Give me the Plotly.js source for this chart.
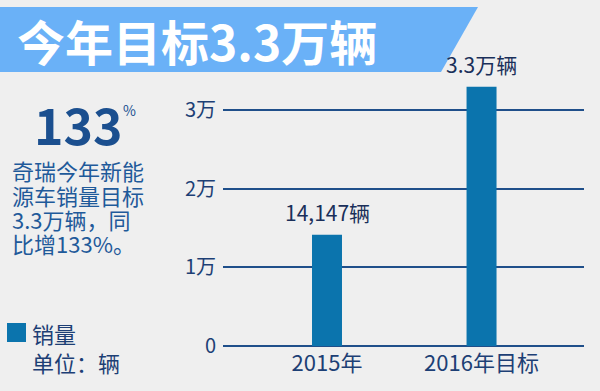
<!DOCTYPE html>
<html>
<head>
<meta charset="utf-8">
<script src="https://cdn.plot.ly/plotly-3.0.1.min.js"></script>
<style>html,body{margin:0;padding:0;background:#efefef;}#chart{width:600px;height:391px;}</style>
</head>
<body>
<div id="chart"></div>
<script>
// ---- data ----
const categories = ['2015年', '2016年目标'];
const sales = [14147, 33000];
const valueLabels = ['14,147辆', '3.3万辆'];
const yTickVals = [0, 10000, 20000, 30000];
const yTickText = ['0', '1万', '2万', '3万'];
const titleText = '今年目标3.3万辆';
const bigNumber = '133';
const bigNumberUnit = '%';
const descLines = ['奇瑞今年新能', '源车销量目标', '3.3万辆，同', '比增133%。'];
const legendName = '销量';
const unitText = '单位：辆';

// ---- layout helpers ----
const FONT = '"Noto Sans CJK SC", "Noto Sans", sans-serif';
const ML = 223, MR = 16, MT = 50, MB = 45, W = 600, H = 391;
const PW = W - ML - MR, PH = H - MT - MB;
const px = x => (x - ML) / PW;
const py = y => (H - MB - y) / PH;
const barColor = '#0b74ad';
const navy = '#1d3f75';

const annotations = [];
// value labels above bars
categories.forEach((c, i) => {
  annotations.push({
    x: c, y: sales[i], xref: 'x', yref: 'y', text: valueLabels[i],
    showarrow: false, yanchor: 'bottom', yshift: 6,
    font: {family: FONT, size: 21, color: '#1a2f5a'}
  });
});
// title
annotations.push({
  xref: 'paper', yref: 'paper', x: px(15), y: py(40), xanchor: 'left', yanchor: 'middle',
  text: '<b>' + titleText + '</b>', showarrow: false,
  font: {family: FONT, size: 48, color: '#ffffff'}
});
// big number
annotations.push({
  xref: 'paper', yref: 'paper', x: px(32), y: py(123), xanchor: 'left', yanchor: 'middle',
  text: '<b>' + bigNumber + '</b>', showarrow: false,
  font: {family: FONT, size: 50, color: '#1b4f8f'}
});
annotations.push({
  xref: 'paper', yref: 'paper', x: px(121), y: py(110), xanchor: 'left', yanchor: 'middle',
  text: bigNumberUnit, showarrow: false,
  font: {family: FONT, size: 14, color: '#1b4f8f'}
});
// description
const lineY = [170, 195, 219, 243];
descLines.forEach((t, i) => {
  annotations.push({
    xref: 'paper', yref: 'paper', x: px(10), y: py(lineY[i]), xanchor: 'left', yanchor: 'middle',
    text: t, showarrow: false,
    font: {family: FONT, size: 22, color: '#1f5a9a'}
  });
});
// legend
annotations.push({
  xref: 'paper', yref: 'paper', x: px(30), y: py(333), xanchor: 'left', yanchor: 'middle',
  text: legendName, showarrow: false, font: {family: FONT, size: 22, color: navy}
});
annotations.push({
  xref: 'paper', yref: 'paper', x: px(30), y: py(362), xanchor: 'left', yanchor: 'middle',
  text: unitText, showarrow: false, font: {family: FONT, size: 22, color: navy}
});

const shapes = [
  {
    type: 'path', xref: 'paper', yref: 'paper', layer: 'below',
    path: `M ${px(0)} ${py(7)} L ${px(478)} ${py(7)} L ${px(441)} ${py(72)} L ${px(0)} ${py(72)} Z`,
    fillcolor: '#6ab1f7', line: {width: 0}
  },
  {
    type: 'rect', xref: 'paper', yref: 'paper',
    x0: px(7), x1: px(26), y0: py(342), y1: py(323),
    fillcolor: barColor, line: {width: 0}
  }
];

const trace = {
  type: 'bar', x: categories, y: sales, width: 0.194,
  marker: {color: barColor, line: {width: 0}},
  hoverinfo: 'none', showlegend: false
};

const layout = {
  width: W, height: H,
  margin: {l: ML, r: MR, t: MT, b: MB, pad: 0},
  paper_bgcolor: '#efefef', plot_bgcolor: '#efefef',
  showlegend: false,
  xaxis: {
    type: 'category', range: [-0.673, 1.663], showgrid: false, zeroline: false, showline: false,
    ticks: '', tickfont: {family: FONT, size: 22, color: navy}, ticklabelstandoff: 2
  },
  yaxis: {
    range: [0, 37660], tickvals: yTickVals, ticktext: yTickText,
    showgrid: true, gridcolor: '#1f4f8a', gridwidth: 2,
    zeroline: true, zerolinecolor: '#1f4f8a', zerolinewidth: 2, showline: false,
    ticks: '', tickfont: {family: FONT, size: 20, color: navy}, ticklabelstandoff: 6
  },
  shapes: shapes,
  annotations: annotations
};

Plotly.newPlot('chart', [trace], layout, {displayModeBar: false, staticPlot: true});
</script>
</body>
</html>
